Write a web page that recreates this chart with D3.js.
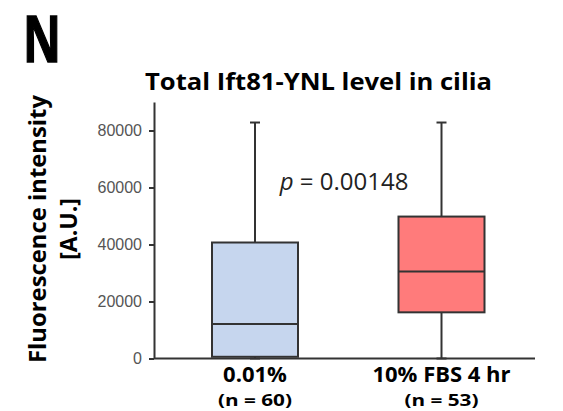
<!DOCTYPE html>
<html>
<head>
<meta charset="utf-8">
<script src="https://cdn.jsdelivr.net/npm/d3@7"></script>
<style>
  body { margin: 0; background: #fff; }
  svg { display: block; font-family: "Open Sans", "Noto Sans", sans-serif; }
  .tick text { fill: #555; font-size: 16px; }
  .tick line, .domain { stroke: #333; stroke-width: 2px; }
</style>
</head>
<body>
<div id="chart"></div>
<script>
/* data */
var categories = ["0.01%", "10% FBS 4 hr"]
var nLabels = ["(n = 60)", "(n = 53)"]
var whiskerLow = [0, 0]
var q1 = [600, 16200]
var median = [12100, 30500]
var q3 = [40700, 49800]
var whiskerHigh = [82800, 82800]
var boxColors = ["#c6d6ee", "#ff7b7b"]
var yTicks = [0, 20000, 40000, 60000, 80000]
var pText = "0.00148"

var W = 563, H = 411
var plot = { left: 154, right: 535, top: 102, bottom: 358.5 }

var svg = d3.select("#chart").append("svg")
  .attr("width", W)
  .attr("height", H)

var yScale = d3.scaleLinear()
  .domain([0, 90000])
  .range([plot.bottom, plot.top])

var xScale = d3.scalePoint()
  .domain(categories)
  .range([plot.left + 101, plot.left + 287.5])

/* panel letter and title */
svg.append("text")
  .attr("x", 23).attr("y", 62)
  .attr("font-size", 64).attr("font-weight", "bold")
  .attr("textLength", 38).attr("lengthAdjust", "spacingAndGlyphs")
  .style("stroke", "#000").style("stroke-width", 1.5)
  .text("N")
svg.append("text")
  .attr("x", 145).attr("y", 90)
  .attr("font-size", 24).attr("font-weight", "bold")
  .attr("textLength", 347).attr("lengthAdjust", "spacingAndGlyphs")
  .text("Total Ift81-YNL level in cilia")

/* y axis */
svg.append("g")
  .attr("transform", "translate(" + plot.left + ",0)")
  .call(d3.axisLeft(yScale).tickValues(yTicks).tickSize(5).tickSizeOuter(0).tickPadding(7).tickFormat(d3.format("d")))

/* x axis line */
svg.append("line")
  .attr("x1", plot.left).attr("x2", plot.right)
  .attr("y1", yScale(0)).attr("y2", yScale(0))
  .style("stroke", "#333").style("stroke-width", 2)

/* y label */
var yl = svg.append("g").attr("transform", "translate(46,229) rotate(-90)")
yl.append("text")
  .attr("text-anchor", "middle")
  .attr("font-size", 23).attr("font-weight", "bold")
  .attr("textLength", 268).attr("lengthAdjust", "spacingAndGlyphs")
  .text("Fluorescence intensity")
yl.append("text")
  .attr("y", 31)
  .attr("text-anchor", "middle")
  .attr("font-size", 23).attr("font-weight", "bold")
  .text("[A.U.]")

/* boxes */
var boxW = 86, capW = 10
categories.forEach(function(c, i) {
  var cx = xScale(c)
  var g = svg.append("g")
  g.append("line")
    .attr("x1", cx).attr("x2", cx)
    .attr("y1", yScale(whiskerHigh[i])).attr("y2", yScale(q3[i]))
    .style("stroke", "#333").style("stroke-width", 2)
  g.append("line")
    .attr("x1", cx).attr("x2", cx)
    .attr("y1", yScale(q1[i])).attr("y2", yScale(whiskerLow[i]))
    .style("stroke", "#333").style("stroke-width", 2)
  g.append("line")
    .attr("x1", cx - capW / 2).attr("x2", cx + capW / 2)
    .attr("y1", yScale(whiskerHigh[i])).attr("y2", yScale(whiskerHigh[i]))
    .style("stroke", "#333").style("stroke-width", 2)
  g.append("line")
    .attr("x1", cx - capW / 2).attr("x2", cx + capW / 2)
    .attr("y1", yScale(whiskerLow[i])).attr("y2", yScale(whiskerLow[i]))
    .style("stroke", "#333").style("stroke-width", 2)
  g.append("rect")
    .attr("x", cx - boxW / 2).attr("width", boxW)
    .attr("y", yScale(q3[i])).attr("height", yScale(q1[i]) - yScale(q3[i]))
    .style("fill", boxColors[i]).style("stroke", "#333").style("stroke-width", 2)
  g.append("line")
    .attr("x1", cx - boxW / 2).attr("x2", cx + boxW / 2)
    .attr("y1", yScale(median[i])).attr("y2", yScale(median[i]))
    .style("stroke", "#333").style("stroke-width", 2)

  svg.append("text")
    .attr("x", cx).attr("y", 382)
    .attr("text-anchor", "middle")
    .attr("font-size", 22).attr("font-weight", "bold")
    .text(c)
  svg.append("text")
    .attr("x", cx).attr("y", 406)
    .attr("text-anchor", "middle")
    .attr("font-size", 16).attr("font-weight", "bold")
    .attr("textLength", c === categories[0] ? 74 : 74)
    .attr("lengthAdjust", "spacingAndGlyphs")
    .text(nLabels[i])
})

/* p value */
var pt = svg.append("text")
  .attr("x", 344).attr("y", 190)
  .attr("text-anchor", "middle")
  .attr("font-size", 24)
  .style("fill", "#222")
pt.append("tspan").attr("font-style", "italic").text("p")
pt.append("tspan").text(" = " + pText)
</script>
</body>
</html>
